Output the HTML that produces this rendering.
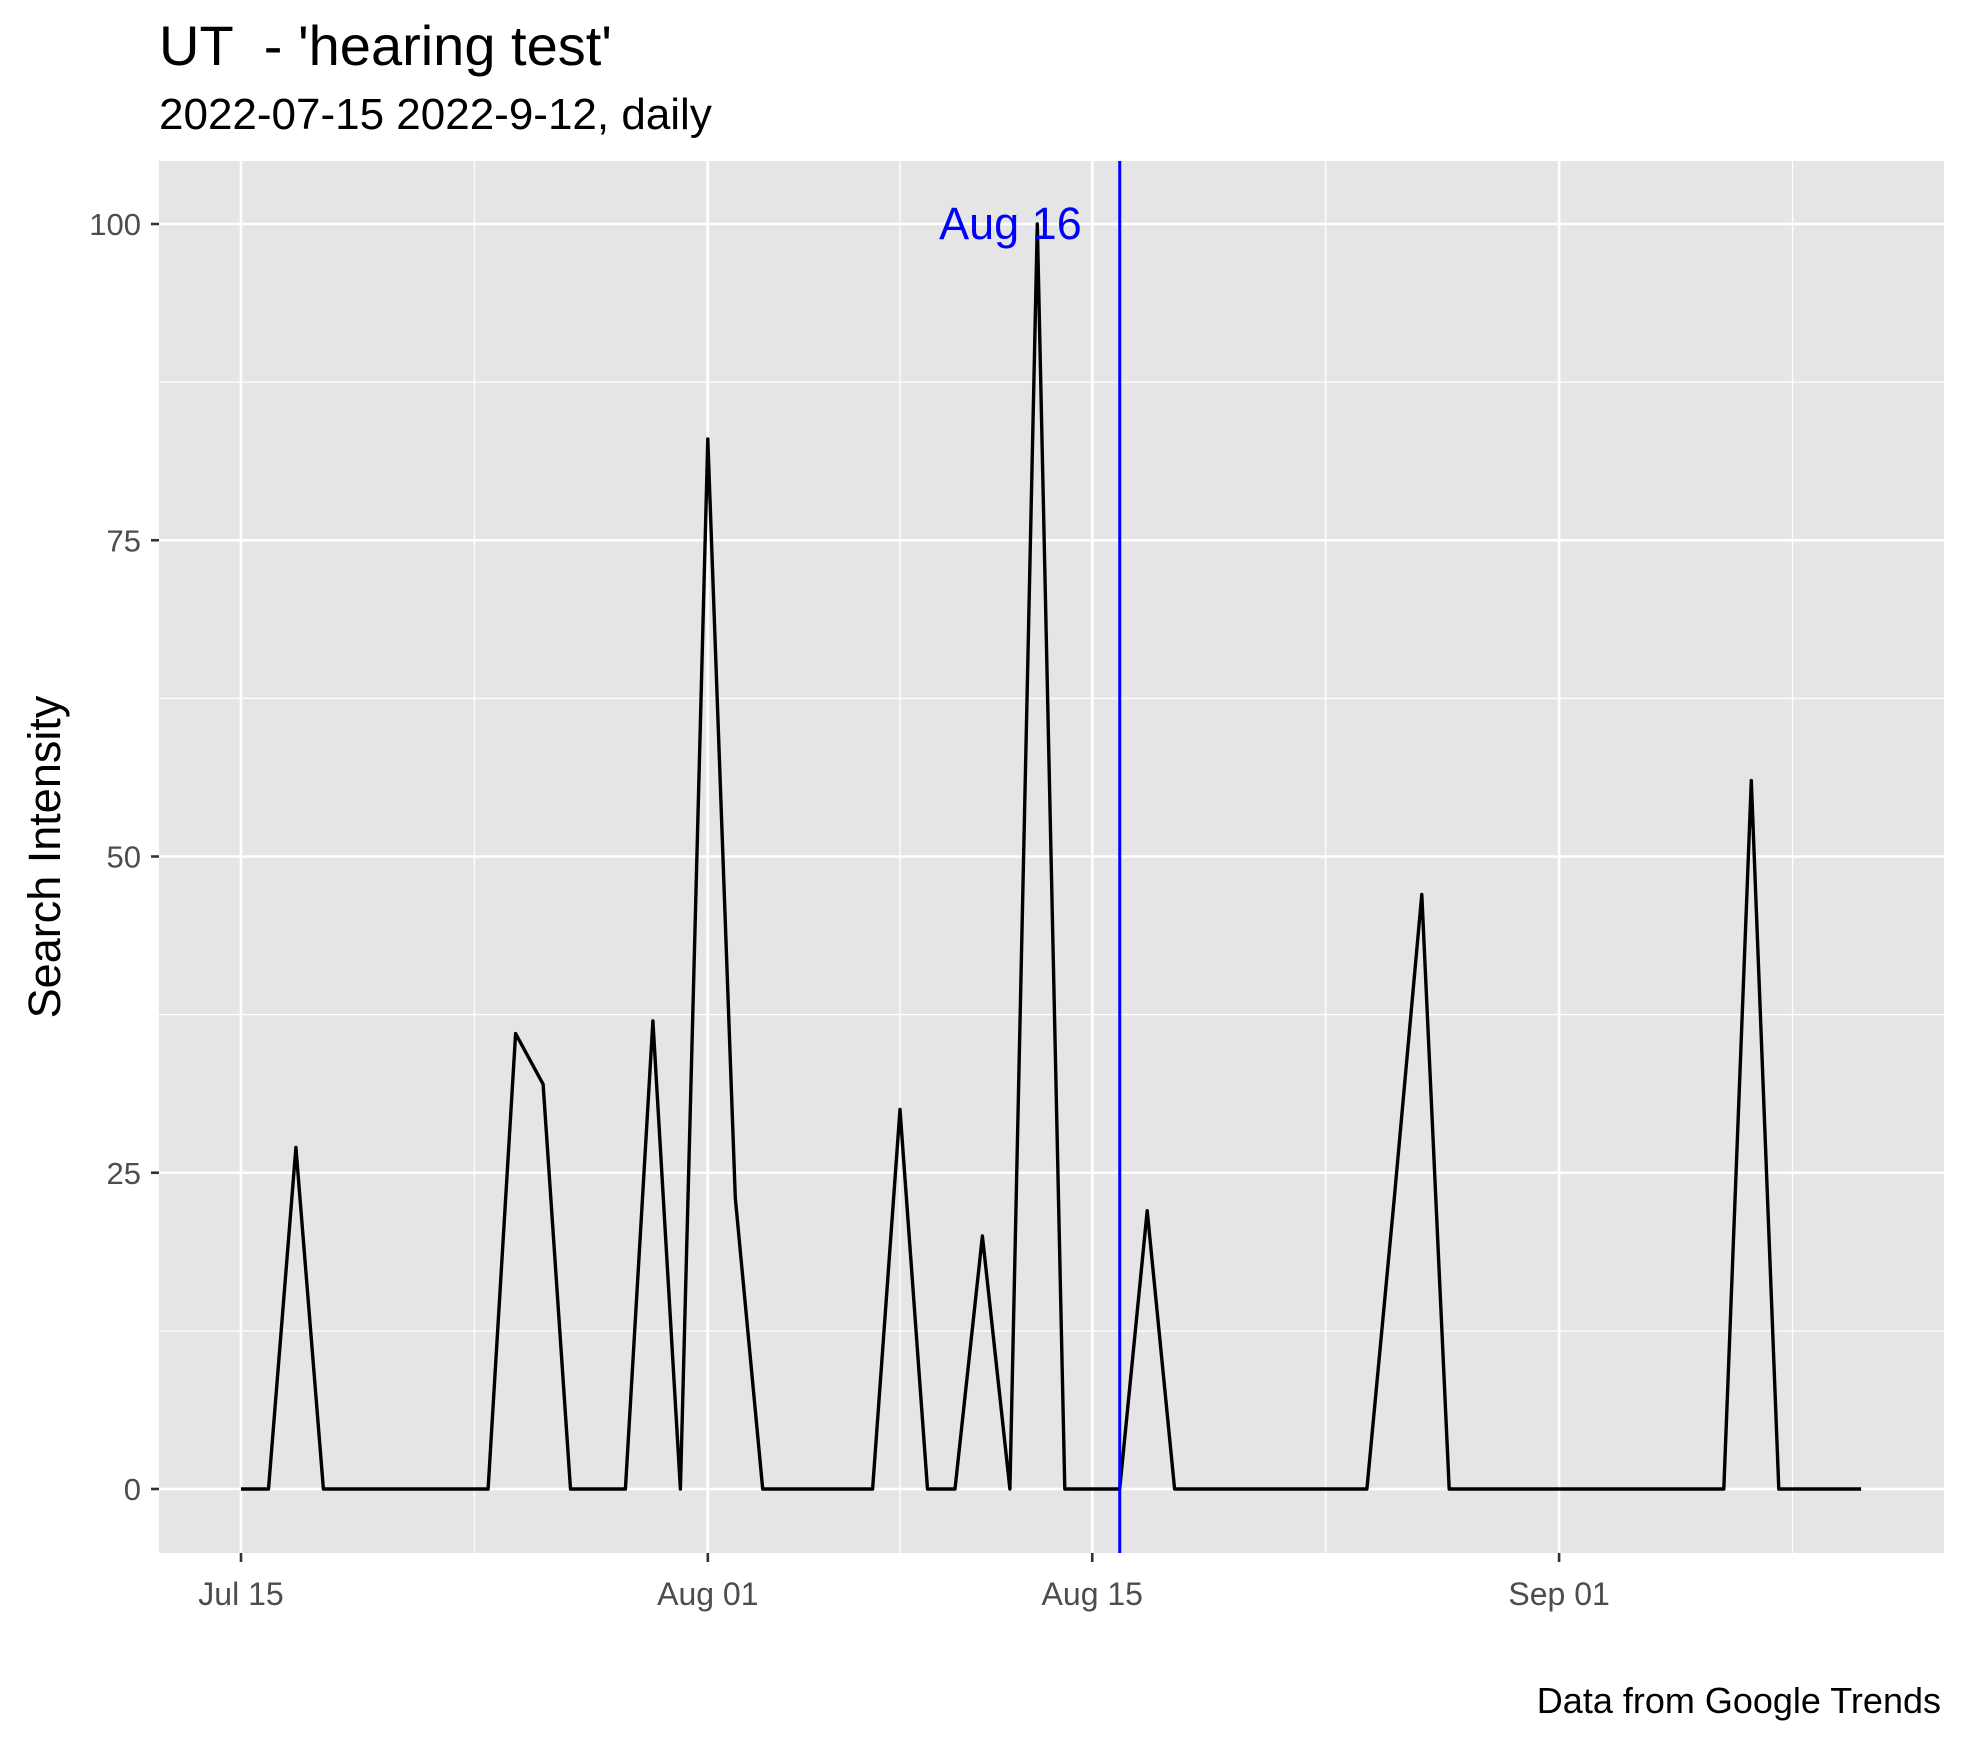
<!DOCTYPE html>
<html><head><meta charset="utf-8"><style>
html,body{margin:0;padding:0;background:#fff}
svg{display:block;font-family:"Liberation Sans",Arial,sans-serif}
</style></head><body>
<svg id="chart" width="1966" height="1741" viewBox="0 0 1966 1741" xmlns="http://www.w3.org/2000/svg">
<text x="159" y="65" font-size="56" fill="#000">UT &#160;- 'hearing test'</text>
<text x="159" y="129" font-size="44" fill="#000">2022-07-15 2022-9-12, daily</text>
<text x="1941" y="1713" font-size="36" fill="#000" text-anchor="end">Data from Google Trends</text>
<text transform="translate(60,857) rotate(-90)" font-size="45" fill="#000" text-anchor="middle">Search Intensity</text>
<rect x="159" y="161" width="1785" height="1392" fill="#e5e5e5"/>
<g id="grid"></g><g id="axes"></g><g id="marks"></g>
</svg>
<script>
const values = [0,0,27,0,0,0,0,0,0,0,36,32,0,0,0,37,0,83,23,0,0,0,0,0,30,0,0,20,0,100,0,0,0,22,0,0,0,0,0,0,0,0,23,47,0,0,0,0,0,0,0,0,0,0,0,56,0,0,0,0];
const xTickDays = [0,17,31,48];
const xTickLabels = ["Jul 15","Aug 01","Aug 15","Sep 01"];
const xMinorDays = [8.5,24,39.5,56.5];
const yTicks = [0,25,50,75,100];
const yMinor = [12.5,37.5,62.5,87.5];
const eventDay = 32;
const eventLabel = "Aug 16";

const NS="http://www.w3.org/2000/svg";
const L=159,R=1944,T=161,B=1553;
function x(d){return 241+d*27.46;}
function y(v){return 1489-v*12.65;}
function mk(tag,attrs,parent){const e=document.createElementNS(NS,tag);for(const k in attrs)e.setAttribute(k,attrs[k]);parent.appendChild(e);return e;}
const grid=document.getElementById('grid'),axes=document.getElementById('axes'),marks=document.getElementById('marks');
yMinor.forEach(v=>{const e=mk('line',{x1:L,x2:R,y1:y(v),y2:y(v),stroke:'#fff','stroke-width':1.3},grid);

});
xMinorDays.forEach(d=>{const e=mk('line',{x1:x(d),x2:x(d),y1:T,y2:B,stroke:'#fff','stroke-width':1.3},grid);

});
yTicks.forEach(v=>{const e=mk('line',{x1:L,x2:R,y1:y(v),y2:y(v),stroke:'#fff','stroke-width':2.6},grid);


const t=mk('line',{x1:151,x2:L,y1:y(v),y2:y(v),stroke:'#333','stroke-width':2.6},axes);


const l=mk('text',{x:141,y:y(v)+11,'font-size':31,fill:'#4d4d4d','text-anchor':'end'},axes);l.textContent=v;

});
xTickDays.forEach((d,i)=>{const e=mk('line',{x1:x(d),x2:x(d),y1:T,y2:B,stroke:'#fff','stroke-width':2.6},grid);


const t=mk('line',{x1:x(d),x2:x(d),y1:B,y2:B+9,stroke:'#333','stroke-width':2.6},axes);


const l=mk('text',{x:x(d),y:1605,'font-size':32,fill:'#4d4d4d','text-anchor':'middle'},axes);l.textContent=xTickLabels[i];

});
const pts=values.map((v,i)=>x(i).toFixed(1)+','+y(v).toFixed(1)).join(' ');
const line=mk('polyline',{points:pts,fill:'none',stroke:'#000','stroke-width':3.4,'stroke-linejoin':'round'},marks);


const vl=mk('line',{x1:x(eventDay),x2:x(eventDay),y1:T,y2:B,stroke:'#0000ff','stroke-width':3},marks);


const vt=mk('text',{x:x(eventDay)-38,y:y(100)+15,'font-size':45,fill:'#0000ff','text-anchor':'end'},marks);vt.textContent=eventLabel;


</script>
</body></html>
